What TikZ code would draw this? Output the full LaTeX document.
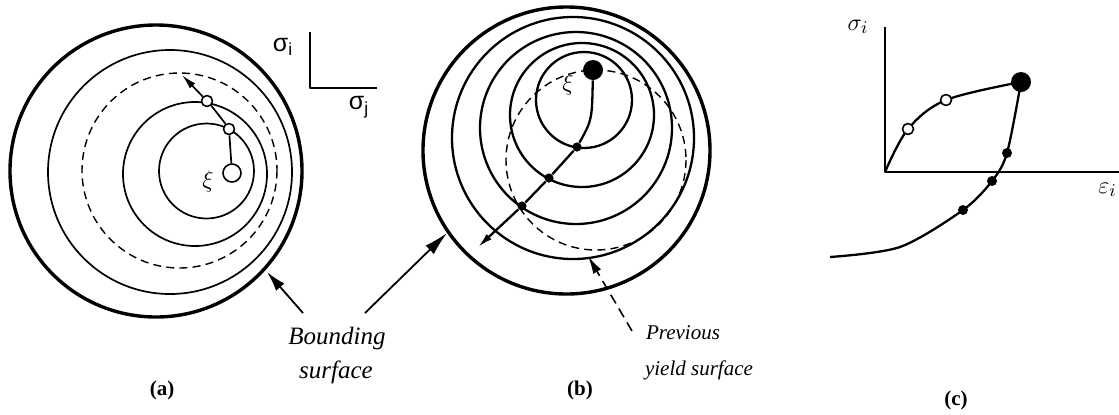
\documentclass[tikz,border=0pt]{standalone}
\usepackage{fontspec}
\setmainfont{Liberation Serif}
\newfontfamily\grksans{Liberation Sans}
\usetikzlibrary{positioning,arrows.meta,calc}

\begin{document}
\begin{tikzpicture}[x=0.5pt,y=-0.5pt,>={Latex[length=7.5pt,width=3.6pt]},line join=round,
    bound/.style={line width=1.7pt},
    yld/.style={line width=0.85pt},
    yldb/.style={line width=1.15pt},
    prev/.style={line width=0.7pt,dash pattern=on 4pt off 2.6pt},
    opendot/.style={circle,draw,fill=white,line width=0.8pt,inner sep=0pt,minimum size=5.5pt},
    fulldot/.style={circle,fill=black,inner sep=0pt,minimum size=4.6pt},
    bigdot/.style={circle,fill=black,inner sep=0pt,minimum size=10pt},
    bigarrow/.style={line width=0.9pt,-{Latex[length=12pt,width=6pt]}},
    caption/.style={font=\fontsize{12.5}{14}\selectfont\itshape},
    smallcap/.style={font=\fontsize{10.5}{12}\selectfont\itshape,anchor=west},
    panel/.style={font=\fontsize{10.5}{12}\selectfont\bfseries}]
  \useasboundingbox (0,0) rectangle (1119,414);

  % (a)
  \draw[bound] (156,171) circle[radius=146];
  \draw[yld] (170,172) circle[radius=122];
  \draw[prev] (179.5,170.5) circle[radius=97.5];
  \draw[yld] (195,174) circle[radius=72];
  \draw[yld] (206.5,171) circle[radius=47.5];
  \node[opendot,minimum size=9pt] (xa) at (232,173) {};
  \node[opendot] (a1) at (229,129) {};
  \node[opendot] (a2) at (207,101) {};
  \coordinate (aend) at (182,75);
  \draw[yld] (xa) -- (a1);
  \draw[yld] (a1) .. controls (219,114) .. (a2);
  \draw[yld,->] (a2) -- (aend);
  \node[font=\fontsize{12}{14}\selectfont] (xilabA) at (208,181) {$\xi$};
  \coordinate (oa) at (310,88);
  \draw[yld] (310,32) -- (oa) -- (377,88);
  \node[font=\fontsize{12.5}{14}\selectfont\grksans] (sia) at (283,47) {σ\textsubscript{i}};
  \node[font=\fontsize{12.5}{14}\selectfont\grksans] (sja) at (359,107) {σ\textsubscript{j}};

  % (b)
  \draw[bound] (566.5,150.5) circle[radius=143.5];
  \draw[yldb] (573,138) circle[radius=121];
  \draw[yldb] (576,128) circle[radius=96];
  \draw[yldb] (582,115) circle[radius=72];
  \draw[yldb] (584,100) circle[radius=48];
  \draw[prev] (596,160) circle[radius=90];
  \node[bigdot] (xb) at (593,70) {};
  \node[fulldot] (b1) at (577,147) {};
  \node[fulldot] (b2) at (549,178) {};
  \node[fulldot] (b3) at (522,206) {};
  \coordinate (bend) at (478,247);
  \draw[yldb] (xb) .. controls (592,120) .. (b1);
  \draw[yldb,->] (b1) -- (b2) -- (b3) -- (bend);
  \node[font=\fontsize{12}{14}\selectfont] (xilabB) at (568,84) {$\xi$};

  % labels
  \node[caption] (bnd) at (337,338) {Bounding};
  \node[caption] (srf) at (336,372) {surface};
  \coordinate (tipa) at (267,272);
  \coordinate (tipb) at (447,233);
  \draw[bigarrow,-{Latex[length=10pt,width=5.5pt]}] (303,313) -- (tipa);
  \draw[bigarrow] (365,313) -- (tipb);
  \node[smallcap] (prv) at (639,333) {Previous};
  \node[smallcap] (yls) at (638,370) {yield surface};
  \coordinate (tipp) at (588,256);
  \draw[line width=0.8pt,dash pattern=on 5pt off 3pt,-{Latex[length=9pt,width=4.5pt]}] (632,331) -- (tipp);
  \node[panel] (pa) at (162,390) {(a)};
  \node[panel] (pb) at (580,390) {(b)};
  \node[panel] (pc) at (956,400) {(c)};

  % (c)
  \coordinate (oc) at (885,172);
  \draw[yld] (885,27) -- (oc) -- (1125,172);
  \node[font=\fontsize{12.5}{14}\selectfont] (sic) at (858,27) {$\sigma_i$};
  \node[font=\fontsize{12.5}{14}\selectfont,anchor=east,inner sep=1pt] (eic) at (1119,190) {$\varepsilon_i$};
  \draw[yldb] plot[smooth,tension=0.55] coordinates {(885,172) (908,129) (946,100) (1021,82)};
  \draw[yldb] plot[smooth,tension=0.5] coordinates {(1021,82) (1007,153) (992,181) (963,210) (900,247) (830,257)};
  \node[opendot] (c1) at (908,129) {};
  \node[opendot] (c2) at (946,100) {};
  \node[bigdot] (xc) at (1021,82) {};
  \node[fulldot,minimum size=5pt] (c3) at (1007,153) {};
  \node[fulldot,minimum size=5pt] (c4) at (992,181) {};
  \node[fulldot,minimum size=5pt] (c5) at (963,210) {};
\end{tikzpicture}
\end{document}
